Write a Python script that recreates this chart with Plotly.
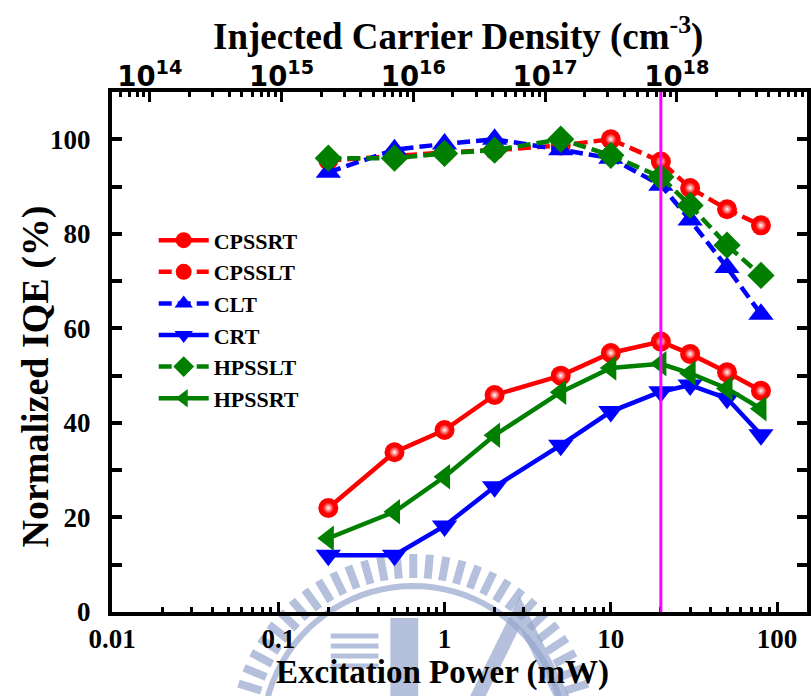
import math
import plotly.graph_objects as go

# Excitation power (mW) and normalized IQE (%) for each sample
power = [0.2, 0.5, 1, 2, 5, 10, 20, 30, 50, 80]
cpssrt = [22.0, 33.8, 38.5, 45.9, 50.0, 54.8, 57.2, 54.6, 50.7, 46.8]
cpsslt = [95.5, 96.6, 97.2, 97.7, 98.7, 100.0, 95.3, 89.7, 85.2, 81.8]
clt = [93.0, 97.8, 99.0, 100.0, 97.8, 96.0, 90.3, 82.9, 72.9, 63.0]
crt = [12.0, 12.0, 18.2, 26.5, 35.3, 42.4, 46.6, 48.0, 45.2, 37.5]
hpsslt = [96.0, 96.0, 97.0, 97.7, 100.0, 96.6, 92.0, 86.0, 77.6, 71.2]
hpssrt = [15.6, 21.2, 28.6, 37.4, 46.5, 51.6, 52.5, 50.5, 47.3, 43.0]

marked_power = 20  # mW, vertical reference line

RED = "#ff0000"
BLUE = "#0000ff"
GREEN = "#007f00"
SERIF = "Liberation Serif"
DASH = "13px,6px"
LW = 4.5

W, H = 811, 696
ML, MR, MT, MB = 112, 0, 92, 84
PW, PH = W - ML - MR, H - MT - MB

fig = go.Figure()


def add_series(name, y, color, symbol, dash, size, sphere=False):
    fig.add_trace(go.Scatter(
        x=power, y=y, name=name, mode="lines+markers",
        line=dict(color=color, width=LW, dash=dash),
        marker=dict(symbol=symbol, size=size, color=color, line=dict(width=0)),
    ))
    if sphere:
        # glossy highlight on the spherical markers
        fig.add_trace(go.Scatter(
            x=power, y=y, mode="markers", showlegend=False, hoverinfo="skip",
            marker=dict(symbol="circle", size=11, color=color,
                        gradient=dict(type="radial", color="#ffffff"),
                        line=dict(width=0)),
        ))


add_series("CPSSRT", cpssrt, RED, "circle", "solid", 20, sphere=True)
add_series("CPSSLT", cpsslt, RED, "circle", DASH, 20, sphere=True)
add_series("CLT", clt, BLUE, "triangle-up", DASH, 22)
add_series("CRT", crt, BLUE, "triangle-down", "solid", 22)
add_series("HPSSLT", hpsslt, GREEN, "diamond", DASH, 21)
add_series("HPSSRT", hpssrt, GREEN, "triangle-left", "solid", 22)

# invisible trace that activates the top (carrier density) axis
fig.add_trace(go.Scatter(x=[1e15], y=[None], xaxis="x2", showlegend=False,
                         hoverinfo="skip", mode="markers"))

fig.add_shape(type="line", xref="x", yref="paper", x0=marked_power, x1=marked_power,
              y0=0, y1=1, line=dict(color="#ff00ff", width=3), layer="above")


# faint university seal printed behind the lower part of the page
def px(X):
    return (X - ML) / PW


def py(Y):
    return (MT + PH - Y) / PH


SEAL = "rgba(150,165,205,0.7)"
cx, cy = 415, 738
for k in range(0, 31):
    a = math.radians(12 + k * 5.2)
    r0, r1 = 160, 184
    fig.add_shape(type="line", xref="paper", yref="paper", layer="below",
                  x0=px(cx + r0 * math.cos(a)), y0=py(cy - r0 * math.sin(a)),
                  x1=px(cx + r1 * math.cos(a)), y1=py(cy - r1 * math.sin(a)),
                  line=dict(color=SEAL, width=8))
arc = " ".join(
    ("M" if i == 0 else "L") + f"{px(cx + 152 * math.cos(math.radians(t))):.4f},"
    f"{py(cy - 152 * math.sin(math.radians(t))):.4f}"
    for i, t in enumerate(range(10, 171, 4)))
fig.add_shape(type="path", path=arc, xref="paper", yref="paper", layer="below",
              line=dict(color=SEAL, width=6))
for Y in (636, 646, 656, 666):
    fig.add_shape(type="line", xref="paper", yref="paper", layer="below",
                  x0=px(332), x1=px(380), y0=py(Y), y1=py(Y),
                  line=dict(color=SEAL, width=5))
fig.add_shape(type="rect", xref="paper", yref="paper", layer="below",
              x0=px(392), x1=px(420), y0=py(618), y1=py(700),
              fillcolor=SEAL, line=dict(width=0))
fig.add_shape(type="path", xref="paper", yref="paper", layer="below",
              path=f"M{px(478)},{py(700)} L{px(522)},{py(612)} L{px(566)},{py(700)}",
              line=dict(color=SEAL, width=14))

tick_font = dict(family=SERIF, size=27, color="black", weight="bold")

fig.update_layout(
    width=W, height=H,
    margin=dict(l=ML, r=MR, t=MT, b=MB),
    paper_bgcolor="white", plot_bgcolor="rgba(0,0,0,0)",
    showlegend=True,
    legend=dict(x=0.06, y=0.755, xanchor="left", yanchor="top",
                bgcolor="rgba(0,0,0,0)", borderwidth=0, tracegroupgap=0,
                itemwidth=50,
                font=dict(family=SERIF, size=22, color="black", weight="bold")),
    xaxis=dict(
        type="log", range=[-2, 2.18], dtick=1,
        showgrid=False, zeroline=False,
        showline=True, mirror=True, linecolor="black", linewidth=4,
        ticks="inside", ticklen=10, tickwidth=3, tickcolor="black",
        minor=dict(ticks="inside", ticklen=5, tickwidth=3, tickcolor="black",
                   dtick="D1", showgrid=False),
        tickfont=tick_font, ticklabelstandoff=0,
    ),
    xaxis2=dict(
        type="log", range=[13.713, 18.988], dtick=1, overlaying="x", side="top",
        showgrid=False, zeroline=False, showline=False,
        ticks="inside", ticklen=10, tickwidth=3, tickcolor="black",
        minor=dict(ticks="inside", ticklen=5, tickwidth=3, tickcolor="black",
                   dtick="D1", showgrid=False),
        exponentformat="power",
        tickfont=dict(family="DejaVu Sans", size=22, color="black", weight="bold"),
        ticklabelstandoff=0,
    ),
    yaxis=dict(
        range=[0, 110], dtick=20, tick0=0,
        showgrid=False, zeroline=False,
        showline=True, mirror="allticks", linecolor="black", linewidth=4,
        ticks="inside", ticklen=10, tickwidth=4, tickcolor="black",
        minor=dict(ticks="inside", ticklen=6, tickwidth=4, tickcolor="black",
                   dtick=10, showgrid=False),
        tickfont=tick_font, ticklabelstandoff=12,
    ),
    annotations=[
        dict(text="Injected Carrier Density (cm<sup>-3</sup>)", xref="paper", yref="paper",
             x=0.498, y=1.112, xanchor="center", yanchor="middle", showarrow=False,
             font=dict(family=SERIF, size=37, color="black", weight="bold")),
        dict(text="Excitation Power (mW)", xref="paper", yref="paper",
             x=0.475, y=-0.116, xanchor="center", yanchor="middle", showarrow=False,
             font=dict(family=SERIF, size=33, color="black", weight="bold")),
        dict(text="Normalized IQE (%)", xref="paper", yref="paper",
             x=-0.110, y=0.452, xanchor="center", yanchor="middle", showarrow=False,
             textangle=-90,
             font=dict(family=SERIF, size=38, color="black", weight="bold")),
    ],
)

fig.write_html("out.html")
